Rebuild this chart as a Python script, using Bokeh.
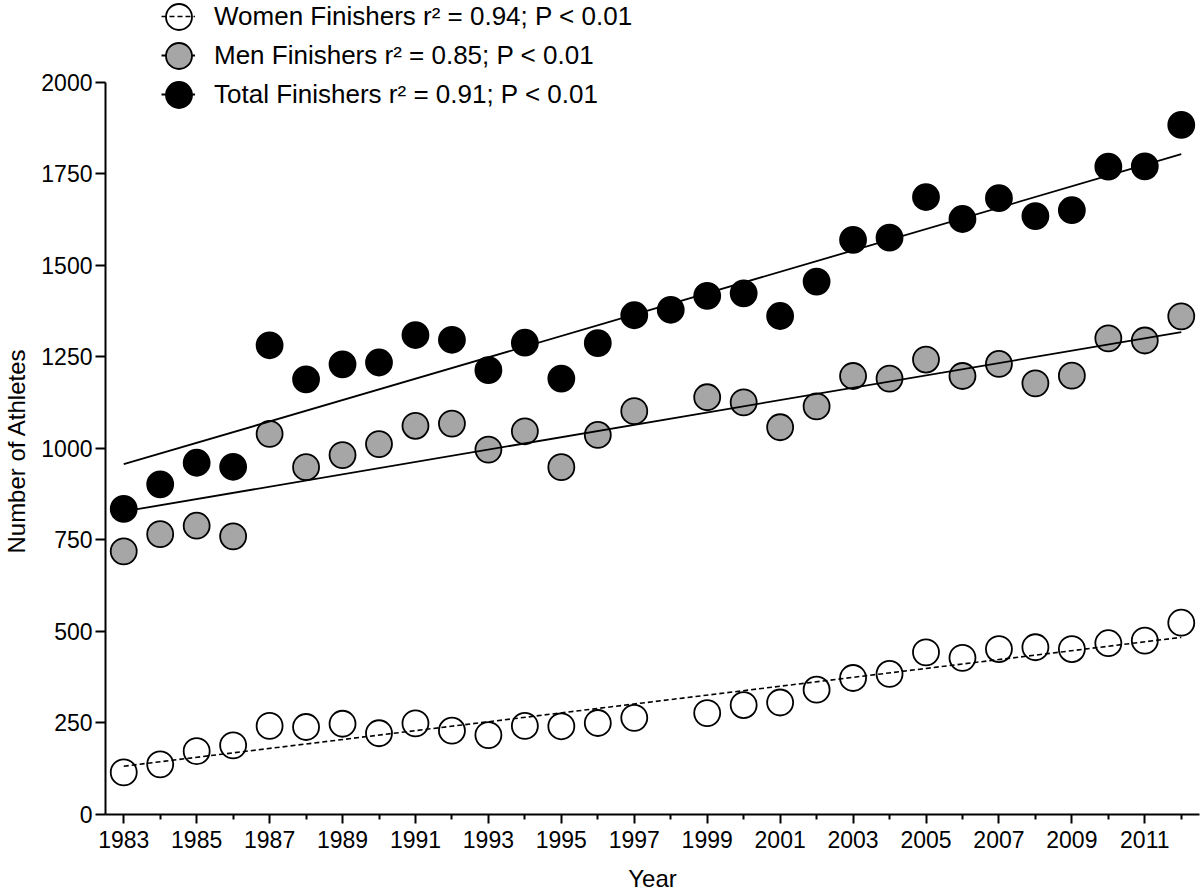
import numpy as np
from bokeh.plotting import figure
from bokeh.models import Range1d, FixedTicker, Legend, LegendItem
from bokeh.core.properties import value
from bokeh.embed import file_html
from bokeh.resources import INLINE

nan = np.nan

# ---- data ----
years = list(range(1983, 2013))
women = [115, 137, 173, 189, 242, 239, 248, 222, 249, 229, 217, 242, 241, 250, 264,
         nan, 277, 299, 306, 341, 373, 384, 443, 428, 452, 457, 452, 468, 475, 524]
men = [719, 766, 789, 760, 1040, 949, 982, 1012, 1062, 1068, 997, 1047, 949, 1037, 1102,
       nan, 1140, 1126, 1058, 1115, 1198, 1191, 1243, 1198, 1231, 1178, 1199, 1301, 1295, 1361]
total = [835, 902, 961, 950, 1282, 1189, 1230, 1235, 1310, 1297, 1214, 1289, 1191, 1288, 1364,
         1379, 1417, 1424, 1362, 1456, 1570, 1576, 1687, 1627, 1684, 1635, 1651, 1770, 1771, 1884]

trend_years = [1983, 2012]
women_trend = [132, 484]
men_trend = [828, 1318]
total_trend = [957, 1804]

x_major_ticks = list(range(1983, 2012, 2))
x_minor_ticks = list(range(1984, 2013, 2))
y_ticks = [0, 250, 500, 750, 1000, 1250, 1500, 1750, 2000]

labels = ["Women Finishers r\u00b2 = 0.94; P < 0.01",
          "Men Finishers r\u00b2 = 0.85; P < 0.01",
          "Total Finishers r\u00b2 = 0.91; P < 0.01"]

FONT = "Liberation Sans"

# frame reaches the top of the canvas so the legend is not clipped;
# the y axis itself is bounded to 0..2000
p = figure(width=1200, height=895,
           x_range=Range1d(1982.5, 2012.5), y_range=Range1d(0, 2224),
           output_backend="svg", toolbar_location=None,
           min_border_left=105, min_border_right=1,
           min_border_top=0, min_border_bottom=81)
p.xgrid.visible = False
p.ygrid.visible = False
p.outline_line_color = None
p.background_fill_color = "white"
p.border_fill_color = "white"

r_w = p.scatter(years, women, size=26, marker="circle", fill_color=None,
                line_color="black", line_width=1.8)
r_m = p.scatter(years, men, size=26, marker="circle", fill_color="#a6a6a6",
                line_color="black", line_width=1.8)
r_t = p.scatter(years, total, size=26, marker="circle", fill_color="black",
                line_color="black", line_width=1.8)

l_w = p.line(trend_years, women_trend, line_color="black", line_width=1.6, line_dash="5 3")
l_m = p.line(trend_years, men_trend, line_color="black", line_width=1.8)
l_t = p.line(trend_years, total_trend, line_color="black", line_width=1.8)

# x axis
xa = p.xaxis[0]
xa.ticker = FixedTicker(ticks=x_major_ticks, minor_ticks=x_minor_ticks)
xa.axis_label = "Year"
xa.major_tick_in = 0
xa.major_tick_out = 9
xa.minor_tick_in = 0
xa.minor_tick_out = 5
xa.major_label_standoff = 7
xa.axis_label_standoff = 14

# y axis (label padded with no-break spaces so that it is centred on 0..2000)
ya = p.yaxis[0]
ya.ticker = FixedTicker(ticks=y_ticks)
ya.bounds = (0, 2000)
ya.axis_label = "Number of Athletes" + "\u00a0" * 13
ya.major_tick_in = 0
ya.major_tick_out = 10
ya.minor_tick_line_color = None
ya.major_label_standoff = 3
ya.axis_label_standoff = 8

for ax in (xa, ya):
    ax.axis_line_width = 2
    ax.axis_line_color = "black"
    ax.major_tick_line_width = 2
    ax.minor_tick_line_width = 2
    ax.major_tick_line_color = "black"
    ax.major_label_text_font = FONT
    ax.major_label_text_font_size = "23px"
    ax.major_label_text_color = "black"
    ax.axis_label_text_font = FONT
    ax.axis_label_text_font_size = "24px"
    ax.axis_label_text_font_style = "normal"
    ax.axis_label_text_color = "black"
xa.minor_tick_line_color = "black"

# legend: line samples + labels
text_legend = Legend(
    items=[LegendItem(label=labels[0], renderers=[l_w]),
           LegendItem(label=labels[1], renderers=[l_m]),
           LegendItem(label=labels[2], renderers=[l_t])],
    location=(56, 704), glyph_width=34, glyph_height=32, label_height=32,
    spacing=7, padding=0, margin=0, label_standoff=19,
    label_text_font=FONT, label_text_font_size="26px", label_text_color="black",
    border_line_color=None, background_fill_alpha=0)
p.add_layout(text_legend)

# legend: circle markers (drawn above the line samples)
for r, ly in [(r_w, 765.5), (r_m, 726.5), (r_t, 687.5)]:
    lg = Legend(items=[LegendItem(label=value(""), renderers=[r])],
                location=(40.5, ly), glyph_width=65, glyph_height=65,
                padding=0, margin=0, label_standoff=0, label_width=0, label_height=0,
                border_line_color=None, background_fill_alpha=0)
    p.add_layout(lg)

open("out.html", "w").write(file_html(p, INLINE))
